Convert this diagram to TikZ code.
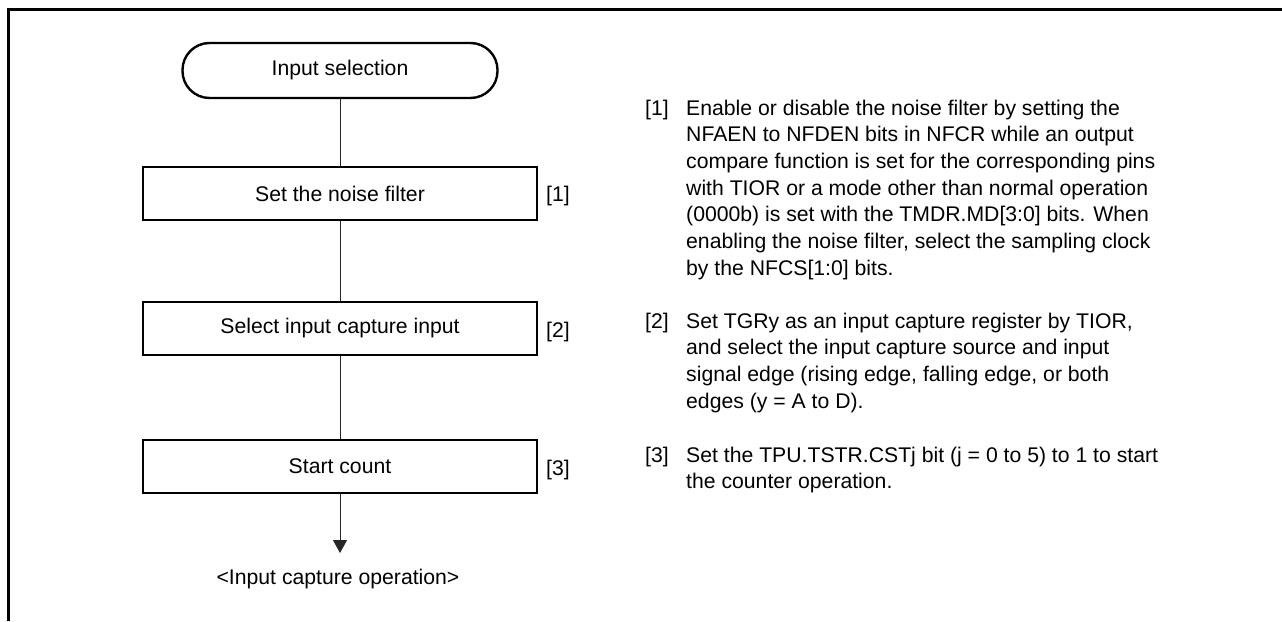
\documentclass[tikz,border=0pt]{standalone}
\usepackage{fontspec}
\setmainfont{Liberation Sans}
\usetikzlibrary{arrows.meta}
\begin{document}
\begin{tikzpicture}[x=1pt,y=-1pt,
  every node/.style={font=\fontsize{21.2}{26.7}\selectfont, inner sep=0pt},
  procbox/.style={draw, line width=2.8pt, minimum width=394pt, minimum height=53pt},
  term/.style={draw, line width=2.4pt, rounded corners=27pt, minimum width=315pt, minimum height=55pt},
  conn/.style={line width=1pt, draw=black!85},
  frame/.style={line width=3pt},
  desc/.style={anchor=base west, align=left}
]
\useasboundingbox (0,0) rectangle (1282,621);
\draw[frame] (8.5,621) -- (8.5,9.5) -- (1282,9.5);

\node[term] (start) at (340,70.5) {Input selection};
\node[procbox] (s1) at (340,193.5) {Set the noise filter};
\node[procbox] (s2) at (340,328.5) {Select input capture input};
\node[procbox] (s3) at (340,466.5) {Start count};
\coordinate (end) at (340,553);
\node (out) at (338,579) {<Input capture operation>};

\draw[conn] (start) -- (s1);
\draw[conn] (s1) -- (s2);
\draw[conn] (s2) -- (s3);
\draw[conn, -{Triangle[width=14pt,length=13pt]}] (s3) -- (end);

\node[anchor=base west] (l1) at (546,201) {[1]};
\node[anchor=base west] (l2) at (546,337) {[2]};
\node[anchor=base west] (l3) at (546,475) {[3]};

% base anchor of a multi-line node is the baseline of its last line
\node[anchor=base west] (d1n) at (645,115) {[1]};
\node[desc] (d1) at (686,275.2) {Enable or disable the noise filter by setting the\\
NFAEN to NFDEN bits in NFCR while an output\\
compare function is set for the corresponding pins\\
with TIOR or a mode other than normal operation\\
(0000b) is set with the TMDR.MD[3:0] bits. When\\
enabling the noise filter, select the sampling clock\\
by the NFCS[1:0] bits.};

\node[anchor=base west] (d2n) at (645,328) {[2]};
\node[desc] (d2) at (686,408.1) {Set TGRy as an input capture register by TIOR,\\
and select the input capture source and input\\
signal edge (rising edge, falling edge, or both\\
edges (y = A to D).};

\node[anchor=base west] (d3n) at (645,462) {[3]};
\node[desc] (d3) at (686,488.7) {Set the TPU.TSTR.CSTj bit (j = 0 to 5) to 1 to start\\
the counter operation.};
\end{tikzpicture}
\end{document}
